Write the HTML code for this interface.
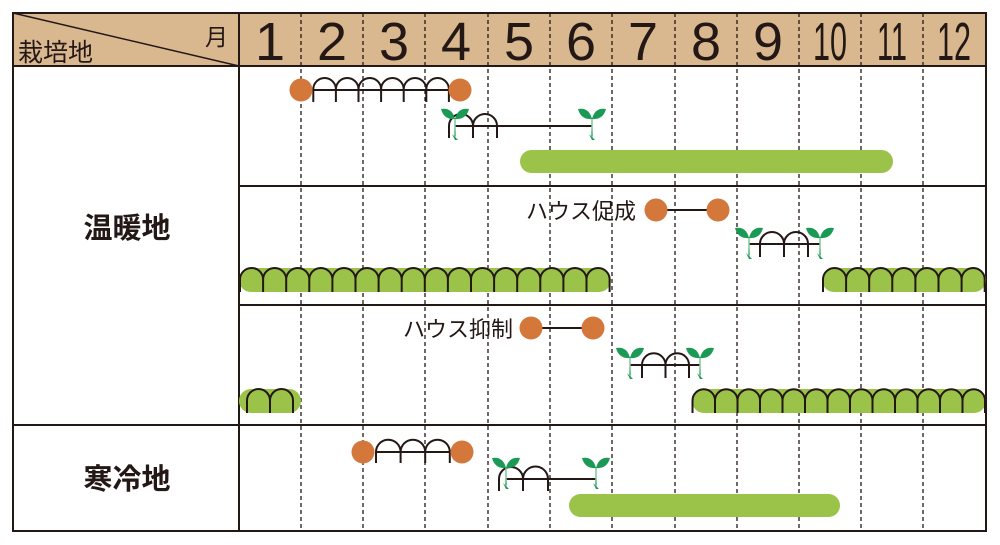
<!DOCTYPE html>
<html><head><meta charset="utf-8"><style>
html,body{margin:0;padding:0;background:#fff;}
svg{display:block;}
text{font-family:"Liberation Sans","Noto Sans CJK JP",sans-serif;fill:#231815;}
</style></head><body>
<svg width="1000" height="545" viewBox="0 0 1000 545" xmlns="http://www.w3.org/2000/svg">
<defs>
<g id="sd">
<path d="M-1 28 L0 12 L1 28 Z" fill="#1a9a55"/>
<line x1="0" y1="10" x2="0" y2="30" stroke="#7fc79a" stroke-width="1.5"/>
<path d="M-3 26 L0 32 L3 32 Z" fill="#1a9a55"/>
<path d="M0 11 Q-3 -1 -14 1 Q-11 12 0 11 Z" fill="#1a9a55"/>
<path d="M0 11 Q3 -1 14 1 Q11 12 0 11 Z" fill="#1a9a55"/>
</g>
</defs>
<!-- header -->
<rect x="13" y="13" width="973" height="53" fill="#d9b88f"/>
<line x1="13" y1="13" x2="239" y2="66" stroke="#231815" stroke-width="1.5"/>
<!-- dashed -->
<g stroke="#231815" stroke-width="1.3" stroke-dasharray="4,3">
<line x1="301" y1="13" x2="301" y2="531"/><line x1="363" y1="13" x2="363" y2="531"/>
<line x1="425" y1="13" x2="425" y2="531"/><line x1="488" y1="13" x2="488" y2="531"/>
<line x1="550" y1="13" x2="550" y2="531"/><line x1="612" y1="13" x2="612" y2="531"/>
<line x1="675" y1="13" x2="675" y2="531"/><line x1="737" y1="13" x2="737" y2="531"/>
<line x1="799" y1="13" x2="799" y2="531"/><line x1="861" y1="13" x2="861" y2="531"/>
<line x1="923" y1="13" x2="923" y2="531"/>
</g>
<g stroke="#231815" stroke-width="2" fill="none">
<rect x="13" y="13" width="973" height="518"/>
<line x1="13" y1="66" x2="986" y2="66"/>
<line x1="239" y1="13" x2="239" y2="531"/>
<line x1="239" y1="186" x2="986" y2="186"/>
<line x1="239" y1="305" x2="986" y2="305"/>
<line x1="13" y1="425" x2="986" y2="425"/>
</g>
<!-- header text -->
<text x="18" y="61" font-size="25">栽培地</text>
<text x="205" y="45" font-size="23">月</text>
<g font-size="54" text-anchor="middle">
<text x="270" y="60">1</text><text x="332" y="60">2</text><text x="394" y="60">3</text>
<text x="456" y="60">4</text><text x="519" y="60">5</text><text x="581" y="60">6</text>
<text x="643" y="60">7</text><text x="706" y="60">8</text><text x="768" y="60">9</text>
<text x="830" y="60" textLength="34" lengthAdjust="spacingAndGlyphs">10</text>
<text x="892" y="60" textLength="30" lengthAdjust="spacingAndGlyphs">11</text>
<text x="954" y="60" textLength="34" lengthAdjust="spacingAndGlyphs">12</text>
</g>
<text x="127" y="238" font-size="29" text-anchor="middle" font-weight="bold">温暖地</text>
<text x="127" y="489" font-size="29" text-anchor="middle" font-weight="bold">寒冷地</text>
<text x="636" y="219" font-size="22" text-anchor="end">ハウス促成</text>
<text x="513" y="337" font-size="22" text-anchor="end">ハウス抑制</text>

<!-- green bars -->
<g fill="#9bc34a">
<rect x="520" y="150" width="373" height="23" rx="11.5"/>
<rect x="239" y="268" width="372" height="24" rx="12"/>
<rect x="822" y="268" width="164" height="24" rx="12"/>
<rect x="239" y="389" width="62" height="24" rx="12"/>
<rect x="692" y="389" width="294" height="24" rx="12"/>
<rect x="569" y="494" width="271" height="23" rx="11.5"/>
</g>
<!-- lines and circles -->
<g stroke="#231815" stroke-width="2" fill="none">
<line x1="313" y1="90" x2="449" y2="90"/>
<line x1="455" y1="126" x2="592" y2="126"/>
<line x1="656" y1="210" x2="718" y2="210"/>
<line x1="749" y1="244" x2="820" y2="244"/>
<line x1="531" y1="328" x2="593" y2="328"/>
<line x1="630" y1="365" x2="700" y2="365"/>
<line x1="376" y1="452" x2="450" y2="452"/>
<line x1="506" y1="479" x2="596" y2="479"/>
<!-- arches -->
<path d="M313.3 102 V89.3 a11.3 11.3 0 0 1 22.6 0 v12.7 m0 -12.7 a11.3 11.3 0 0 1 22.6 0 v12.7 m0 -12.7 a11.3 11.3 0 0 1 22.6 0 v12.7 m0 -12.7 a11.3 11.3 0 0 1 22.6 0 v12.7 m0 -12.7 a11.3 11.3 0 0 1 22.6 0 v12.7 m0 -12.7 a11.3 11.3 0 0 1 22.6 0 v12.7"/>
<path d="M449 138 V126 a12 12 0 0 1 24 0 v12 m0 -12 a12 12 0 0 1 24 0 v12"/>
<path d="M760 257 V244 a12 12 0 0 1 24 0 v13 m0 -13 a12 12 0 0 1 24 0 v13"/>
<path d="M642 378 V365 a11.75 11.75 0 0 1 23.5 0 v13 m0 -13 a11.75 11.75 0 0 1 23.5 0 v13"/>
<path d="M376 463 V452 a12.3 12.3 0 0 1 24.6 0 v11 m0 -11 a12.3 12.3 0 0 1 24.6 0 v11 m0 -11 a12.3 12.3 0 0 1 24.6 0 v11"/>
<path d="M499 491 V479 a12 12 0 0 1 24 0 v12 m0 -12 a12.5 12.5 0 0 1 25 0 v12"/>
<!-- bar arches -->
<path d="M240 292 V279.5 a11.55 11.55 0 0 1 23.1 0 v12.5 m0 -12.5 a11.55 11.55 0 0 1 23.1 0 v12.5 m0 -12.5 a11.55 11.55 0 0 1 23.1 0 v12.5 m0 -12.5 a11.55 11.55 0 0 1 23.1 0 v12.5 m0 -12.5 a11.55 11.55 0 0 1 23.1 0 v12.5 m0 -12.5 a11.55 11.55 0 0 1 23.1 0 v12.5 m0 -12.5 a11.55 11.55 0 0 1 23.1 0 v12.5 m0 -12.5 a11.55 11.55 0 0 1 23.1 0 v12.5 m0 -12.5 a11.55 11.55 0 0 1 23.1 0 v12.5 m0 -12.5 a11.55 11.55 0 0 1 23.1 0 v12.5 m0 -12.5 a11.55 11.55 0 0 1 23.1 0 v12.5 m0 -12.5 a11.55 11.55 0 0 1 23.1 0 v12.5 m0 -12.5 a11.55 11.55 0 0 1 23.1 0 v12.5 m0 -12.5 a11.55 11.55 0 0 1 23.1 0 v12.5 m0 -12.5 a11.55 11.55 0 0 1 23.1 0 v12.5 m0 -12.5 a11.55 11.55 0 0 1 23.1 0 v12.5"/>
<path d="M823 292 V279.5 a11.55 11.55 0 0 1 23.1 0 v12.5 m0 -12.5 a11.55 11.55 0 0 1 23.1 0 v12.5 m0 -12.5 a11.55 11.55 0 0 1 23.1 0 v12.5 m0 -12.5 a11.55 11.55 0 0 1 23.1 0 v12.5 m0 -12.5 a11.55 11.55 0 0 1 23.1 0 v12.5 m0 -12.5 a11.55 11.55 0 0 1 23.1 0 v12.5 m0 -12.5 a11.55 11.55 0 0 1 23.1 0 v12.5"/>
<path d="M247 413 V400.5 a11.5 11.5 0 0 1 23 0 v12.5 m0 -12.5 a11.5 11.5 0 0 1 23 0 v12.5"/>
<path d="M692.5 413 V400.5 a11.25 11.25 0 0 1 22.5 0 v12.5 m0 -12.5 a11.25 11.25 0 0 1 22.5 0 v12.5 m0 -12.5 a11.25 11.25 0 0 1 22.5 0 v12.5 m0 -12.5 a11.25 11.25 0 0 1 22.5 0 v12.5 m0 -12.5 a11.25 11.25 0 0 1 22.5 0 v12.5 m0 -12.5 a11.25 11.25 0 0 1 22.5 0 v12.5 m0 -12.5 a11.25 11.25 0 0 1 22.5 0 v12.5 m0 -12.5 a11.25 11.25 0 0 1 22.5 0 v12.5 m0 -12.5 a11.25 11.25 0 0 1 22.5 0 v12.5 m0 -12.5 a11.25 11.25 0 0 1 22.5 0 v12.5 m0 -12.5 a11.25 11.25 0 0 1 22.5 0 v12.5 m0 -12.5 a11.25 11.25 0 0 1 22.5 0 v12.5 m0 -12.5 a11.25 11.25 0 0 1 22.5 0 v12.5"/>
</g>
<g fill="#d4773a">
<circle cx="301" cy="90" r="11.5"/><circle cx="460" cy="90" r="11.5"/>
<circle cx="656" cy="210" r="11.5"/><circle cx="718" cy="210" r="11.5"/>
<circle cx="531" cy="328" r="11.5"/><circle cx="593" cy="328" r="11.5"/>
<circle cx="363" cy="452" r="11.5"/><circle cx="462" cy="452" r="11.5"/>
</g>
<!-- seedlings -->
<use href="#sd" x="455" y="108"/><use href="#sd" x="592" y="108"/>
<use href="#sd" x="749" y="227"/><use href="#sd" x="820" y="227"/>
<use href="#sd" x="630" y="347"/><use href="#sd" x="700" y="347"/>
<use href="#sd" x="506" y="457"/><use href="#sd" x="596" y="457"/>
</svg>
</body></html>
